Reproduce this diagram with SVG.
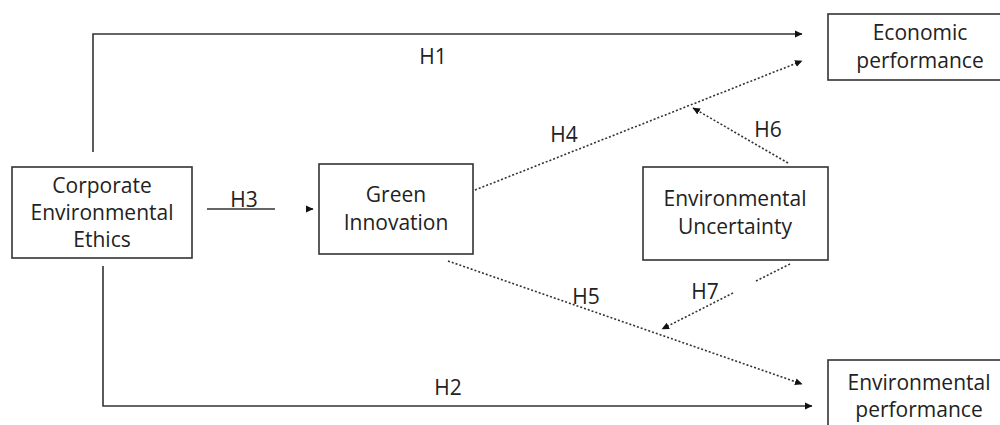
<svg xmlns="http://www.w3.org/2000/svg" width="1000" height="425" viewBox="0 0 1000 425">
<style>
.box{fill:#fff;stroke:#333;stroke-width:1.6}
.t{font-family:"Open Sans","Liberation Sans",sans-serif;font-size:21px;fill:#222;text-anchor:middle}
.solid{fill:none;stroke:#333;stroke-width:1.6}
.dot{fill:none;stroke:#333;stroke-width:1.6;stroke-dasharray:2 2}
</style>
<defs>
<marker id="ah" markerWidth="8" markerHeight="8" refX="7" refY="4" orient="auto" markerUnits="userSpaceOnUse">
<path d="M0,0.5 L7.5,4 L0,7.5 Z" fill="#111"/>
</marker>
</defs>
<rect width="1000" height="425" fill="#fff"/>
<g id="connectors">
<path class="solid" d="M93,152 V34 H802" marker-end="url(#ah)"/>
<path class="solid" d="M103,266 V406 H812" marker-end="url(#ah)"/>
<path class="solid" d="M207,209 H275"/>
<path class="solid" d="M307,209 H313" marker-end="url(#ah)"/>
<path class="dot" d="M475,190 L802,61" marker-end="url(#ah)"/>
<path class="dot" d="M788,163 L693,108" marker-end="url(#ah)"/>
<path class="dot" d="M448,261 L802,384" marker-end="url(#ah)"/>
<path class="dot" d="M790,264 L756,281"/>
<path class="dot" d="M733,293 L662,329" marker-end="url(#ah)"/>
<text class="t" x="433" y="64">H1</text>
<text class="t" x="448" y="395">H2</text>
<text class="t" x="244" y="207">H3</text>
<text class="t" x="564" y="142">H4</text>
<text class="t" x="586" y="304">H5</text>
<text class="t" x="768" y="137">H6</text>
<text class="t" x="705" y="299">H7</text>
</g>
<g id="cee">
<rect class="box" x="12" y="167" width="180" height="91"/>
<text class="t" x="102" y="193">Corporate</text>
<text class="t" x="102" y="220">Environmental</text>
<text class="t" x="102" y="247">Ethics</text>
</g>
<g id="gi">
<rect class="box" x="319" y="164" width="154" height="90"/>
<text class="t" x="396" y="202">Green</text>
<text class="t" x="396" y="230">Innovation</text>
</g>
<g id="eu">
<rect class="box" x="643" y="167" width="185" height="93"/>
<text class="t" x="735" y="206">Environmental</text>
<text class="t" x="735" y="234">Uncertainty</text>
</g>
<g id="ep">
<rect class="box" x="828" y="14" width="180" height="66"/>
<text class="t" x="920" y="40">Economic</text>
<text class="t" x="920" y="68">performance</text>
</g>
<g id="envp">
<rect class="box" x="828" y="360" width="180" height="80"/>
<text class="t" x="919" y="390">Environmental</text>
<text class="t" x="919" y="417">performance</text>
</g>
</svg>
